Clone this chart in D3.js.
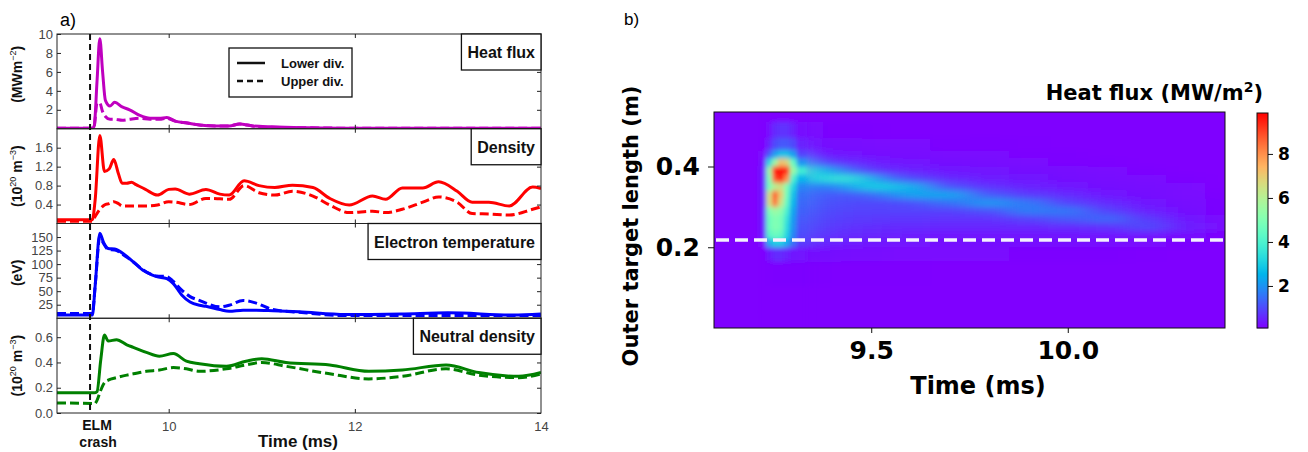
<!DOCTYPE html>
<html><head><meta charset="utf-8">
<script src="https://cdn.jsdelivr.net/npm/d3@7"></script>
<style>body{margin:0;background:#fff}</style>
</head><body><svg id="c" width="1308" height="452" xmlns="http://www.w3.org/2000/svg"></svg>
<script>
// ---------------- DATA: panel a ----------------
const elmTime = 9.155;
const xTicksA = [10, 12, 14];

const tHeat = [8.8, 9.18, 9.2, 9.23, 9.26, 9.29, 9.32, 9.37, 9.42, 9.5, 9.58, 9.69, 9.8, 9.9, 9.98, 10.07, 10.2, 10.33, 10.5, 10.65, 10.76, 10.9, 11.1, 11.5, 12, 13, 14];
const heatLower = [0.05, 0.05, 0.3, 5.0, 9.5, 6.0, 3.0, 2.4, 2.8, 2.3, 2.0, 1.4, 1.1, 1.1, 1.2, 0.8, 0.6, 0.4, 0.3, 0.3, 0.5, 0.3, 0.2, 0.1, 0.05, 0.05, 0.05];
const heatUpper = [0.05, 0.05, 0.3, 2.7, 2.7, 1.8, 1.3, 1.0, 1.0, 0.9, 1.0, 1.1, 1.0, 1.0, 1.1, 0.8, 0.6, 0.4, 0.3, 0.3, 0.5, 0.3, 0.15, 0.1, 0.05, 0.05, 0.05];
const heatTicks = [2, 4, 6, 8, 10];

const tDens = [8.8, 9.18, 9.21, 9.26, 9.31, 9.36, 9.41, 9.46, 9.5, 9.55, 9.6, 9.65, 9.75, 9.88, 10.0, 10.07, 10.22, 10.4, 10.55, 10.65, 10.81, 10.97, 11.14, 11.33, 11.55, 11.73, 11.94, 12.19, 12.33, 12.51, 12.73, 12.9, 13.1, 13.26, 13.44, 13.66, 13.91, 14.0];
const densLower = [0.08, 0.08, 0.5, 1.86, 1.1, 1.15, 1.35, 1.05, 0.85, 0.85, 0.87, 0.82, 0.72, 0.6, 0.72, 0.73, 0.62, 0.72, 0.62, 0.6, 0.9, 0.8, 0.76, 0.81, 0.76, 0.53, 0.39, 0.58, 0.51, 0.75, 0.75, 0.88, 0.68, 0.45, 0.45, 0.37, 0.77, 0.74];
const densUpper = [0.05, 0.05, 0.15, 0.3, 0.39, 0.42, 0.46, 0.42, 0.37, 0.37, 0.37, 0.37, 0.37, 0.39, 0.46, 0.45, 0.4, 0.53, 0.52, 0.51, 0.8, 0.65, 0.6, 0.68, 0.58, 0.39, 0.23, 0.26, 0.23, 0.3, 0.45, 0.56, 0.45, 0.21, 0.2, 0.18, 0.3, 0.35];
const densTicks = [0.4, 0.8, 1.2, 1.6];

const tTemp = [8.8, 9.18, 9.21, 9.26, 9.3, 9.35, 9.42, 9.53, 9.62, 9.72, 9.87, 9.98, 10.05, 10.14, 10.23, 10.33, 10.4, 10.55, 10.65, 10.8, 10.94, 11.12, 11.4, 11.9, 12.5, 13.0, 13.7, 14.0];
const tempLower = [6, 6, 60, 157, 140, 129, 128, 117, 104, 89, 77, 73, 64, 43, 30, 24, 22, 16, 13, 15, 15, 14, 12, 7, 8, 10, 6, 8];
const tempUpper = [9, 9, 60, 150, 138, 127, 126, 115, 104, 90, 78, 77, 68, 52, 40, 33, 28, 21, 24, 33, 28, 16, 11, 5, 5, 5, 5, 5];
const tempTicks = [25, 50, 75, 100, 125, 150];

const tNeut = [8.8, 9.18, 9.2, 9.23, 9.27, 9.31, 9.35, 9.44, 9.55, 9.62, 9.76, 9.9, 10.05, 10.19, 10.33, 10.62, 10.83, 11.0, 11.26, 11.73, 12.15, 12.51, 12.98, 13.33, 13.76, 14.0];
const neutLower = [0.16, 0.16, 0.16, 0.17, 0.42, 0.617, 0.57, 0.58, 0.54, 0.52, 0.48, 0.45, 0.47, 0.41, 0.39, 0.37, 0.41, 0.43, 0.40, 0.38, 0.33, 0.34, 0.38, 0.32, 0.29, 0.32];
const neutUpper = [0.08, 0.075, 0.07, 0.1, 0.18, 0.24, 0.26, 0.28, 0.3, 0.31, 0.33, 0.34, 0.36, 0.35, 0.33, 0.35, 0.38, 0.40, 0.37, 0.31, 0.27, 0.29, 0.35, 0.30, 0.28, 0.31];
const neutTicks = [0.0, 0.2, 0.4, 0.6];

// ---------------- DATA: panel b ----------------
const hmTime = [9.10, 9.15, 9.20, 9.225, 9.24, 9.255, 9.27, 9.285, 9.30, 9.32, 9.35, 9.40, 9.45, 9.50, 9.55, 9.60, 9.70, 9.80, 9.90, 10.0, 10.1, 10.2, 10.3, 10.4];
const hmPos = [0.53, 0.49, 0.45, 0.43, 0.41, 0.39, 0.37, 0.35, 0.33, 0.31, 0.29, 0.27, 0.25, 0.23, 0.21, 0.19, 0.14, 0.07, 0.01];
const hmValues = [
 [0.1,0.1,0.1,0.1,0.1,0.12,0.12,0.12,0.1,0.1, 0.1,0.1,0.1,0.1,0.1,0.1,0.1,0.1,0.1,0.1,0.1,0.1,0.1,0.1],
 [0.1,0.1,0.1,0.1,0.25,0.6,0.7,0.7,0.5,0.25, 0.2,0.15,0.15,0.15,0.12,0.12,0.12,0.1,0.1,0.1,0.1,0.1,0.1,0.1],
 [0.1,0.1,0.1,0.12,0.5,1.0,1.2,1.2,1.0,0.5, 0.3,0.25,0.25,0.2,0.2,0.2,0.15,0.15,0.12,0.1,0.1,0.1,0.1,0.1],
 [0.1,0.1,0.1,0.2,1.2,2.2,2.8,2.8,2.2,0.9, 0.5,0.4,0.35,0.3,0.25,0.25,0.2,0.2,0.15,0.15,0.1,0.1,0.1,0.1],
 [0.1,0.1,0.1,0.3,3.2,5.5,7.2,6.8,4.5,2.0, 1.2,0.8,0.6,0.5,0.4,0.35,0.3,0.25,0.2,0.15,0.15,0.1,0.1,0.1],
 [0.1,0.1,0.1,0.4,5.5,9.6,9.8,9.4,5.5,3.8, 3.0,2.2,1.3,0.8,0.6,0.5,0.4,0.35,0.3,0.25,0.2,0.15,0.1,0.1],
 [0.1,0.1,0.1,0.4,5.0,8.8,9.6,8.0,4.0,2.6, 3.0,3.6,3.6,2.4,1.4,1.0,0.6,0.45,0.4,0.3,0.25,0.2,0.15,0.1],
 [0.1,0.1,0.1,0.4,4.8,6.0,6.5,5.0,3.2,1.8, 1.6,1.7,2.3,3.1,3.0,2.4,1.1,0.7,0.5,0.4,0.3,0.25,0.2,0.1],
 [0.1,0.1,0.1,0.4,6.5,8.7,7.0,4.8,2.8,1.5, 1.3,1.2,1.2,1.4,1.8,2.3,2.3,1.2,0.8,0.6,0.4,0.3,0.2,0.15],
 [0.1,0.1,0.1,0.4,6.5,8.4,6.5,4.5,2.6,1.4, 1.2,1.1,1.0,1.0,1.0,1.1,1.5,2.1,1.6,0.9,0.6,0.4,0.25,0.15],
 [0.1,0.1,0.1,0.4,5.0,5.5,5.2,4.0,2.3,1.3, 1.1,1.0,0.9,0.9,0.9,0.9,0.9,1.1,1.7,1.6,0.9,0.5,0.3,0.15],
 [0.1,0.1,0.1,0.4,4.6,5.0,4.8,3.6,2.1,1.2, 1.0,0.9,0.8,0.8,0.75,0.75,0.7,0.7,0.9,1.2,1.4,0.8,0.4,0.2],
 [0.1,0.1,0.1,0.4,4.6,5.0,4.8,3.4,2.0,1.1, 0.9,0.8,0.7,0.65,0.6,0.6,0.55,0.55,0.55,0.6,0.7,1.0,0.5,0.2],
 [0.1,0.1,0.1,0.35,4.2,4.6,4.4,3.2,1.8,1.0, 0.8,0.7,0.6,0.55,0.5,0.45,0.4,0.4,0.4,0.4,0.4,0.4,0.3,0.15],
 [0.1,0.1,0.1,0.2,2.4,3.0,3.0,2.4,1.5,0.8, 0.6,0.5,0.45,0.4,0.35,0.35,0.3,0.3,0.25,0.25,0.25,0.2,0.15,0.1],
 [0.1,0.1,0.1,0.1,0.4,0.6,0.6,0.5,0.4,0.35, 0.3,0.3,0.25,0.25,0.2,0.2,0.2,0.2,0.15,0.15,0.15,0.12,0.1,0.1],
 [0.1,0.1,0.1,0.1,0.12,0.15,0.15,0.15,0.15,0.15, 0.15,0.12,0.12,0.12,0.12,0.12,0.1,0.1,0.1,0.1,0.1,0.1,0.1,0.1],
 [0.1,0.1,0.1,0.1,0.1,0.1,0.1,0.1,0.1,0.1, 0.1,0.1,0.1,0.1,0.1,0.1,0.1,0.1,0.1,0.1,0.1,0.1,0.1,0.1],
 [0.1,0.1,0.1,0.1,0.1,0.1,0.1,0.1,0.1,0.1, 0.1,0.1,0.1,0.1,0.1,0.1,0.1,0.1,0.1,0.1,0.1,0.1,0.1,0.1]
];
const spikeCols = [3, 9];   // columns of the ELM burst, drawn with fine smoothing
const separatrixPos = 0.218;
const hmXTicks = [9.5, 10.0];
const hmYTicks = [0.2, 0.4];
const cbRange = [0.09, 9.86];
const cbTicks = [2, 4, 6, 8];

// ---------------- DRAW ----------------
const svg = d3.select("#c");
const fontA = "'Liberation Sans', Arial, sans-serif";
const fontB = "'DejaVu Sans', sans-serif";

svg.append("text").attr("x", 60).attr("y", 26).attr("font-family", fontA).attr("font-size", 18).text("a)");
svg.append("text").attr("x", 624).attr("y", 25).attr("font-family", fontA).attr("font-size", 17).text("b)");

const A = {left: 57, right: 541, top: 34, bottom: 413};
const xA = d3.scaleLinear().domain([8.8, 14]).range([A.left, A.right]);
const hA = (A.bottom - A.top) / 4;
const panels = [
  {t: tHeat, lo: heatLower, up: heatUpper, dom: [0, 10], ticks: heatTicks, fmt: d3.format("d"), color: "#bf00bf", title: "Heat flux", label: [["(MWm", 0], ["\u22122", 1], [")", 0]], labelDy: -7},
  {t: tDens, lo: densLower, up: densUpper, dom: [0, 2.0], ticks: densTicks, fmt: d3.format(".1f"), color: "#ff0000", title: "Density", label: [["(10", 0], ["20", 1], [" m", 0], ["\u22123", 1], [")", 0]], labelDy: 0},
  {t: tTemp, lo: tempLower, up: tempUpper, dom: [0, 175], ticks: tempTicks, fmt: d3.format("d"), color: "#0000ff", title: "Electron temperature", label: [["(eV)", 0]], labelDy: 2},
  {t: tNeut, lo: neutLower, up: neutUpper, dom: [0, 0.75], ticks: neutTicks, fmt: d3.format(".1f"), color: "#008000", title: "Neutral density", label: [["(10", 0], ["20", 1], [" m", 0], ["\u22123", 1], [")", 0]], labelDy: 0}
];

const defs = svg.append("defs");
panels.forEach((p, i) => {
  const y0 = A.top + i * hA, y1 = y0 + hA;
  const y = d3.scaleLinear().domain(p.dom).range([y1, y0]);
  const cid = "clipA" + i;
  defs.append("clipPath").attr("id", cid).append("rect")
    .attr("x", A.left).attr("y", y0 - 1).attr("width", A.right - A.left).attr("height", hA + 1);
  const g = svg.append("g");
  const line = d3.line().x(d => xA(d[0])).y(d => y(d[1])).curve(d3.curveMonotoneX);
  const lg = g.append("g").attr("clip-path", `url(#${cid})`);
  lg.append("path").datum(d3.zip(p.t, p.up)).attr("d", line).attr("fill", "none")
    .attr("stroke", p.color).attr("stroke-width", 3).attr("stroke-dasharray", "9,4");
  lg.append("path").datum(d3.zip(p.t, p.lo)).attr("d", line).attr("fill", "none")
    .attr("stroke", p.color).attr("stroke-width", 3);

  g.append("rect").attr("x", A.left).attr("y", y0).attr("width", A.right - A.left).attr("height", hA)
    .attr("fill", "none").attr("stroke", "#222").attr("stroke-width", 1);

  const styleAxis = sel => {
    sel.select(".domain").remove();
    sel.selectAll(".tick line").attr("stroke", "#222");
    sel.selectAll(".tick text").attr("font-family", fontA).attr("font-size", 13).attr("fill", "#444");
  };
  g.append("g").attr("transform", `translate(${A.left},0)`)
    .call(d3.axisLeft(y).tickValues(p.ticks).tickFormat(p.fmt).tickSize(-4).tickPadding(4)).call(styleAxis);
  g.append("g").attr("transform", `translate(${A.right},0)`)
    .call(d3.axisRight(y).tickValues(p.ticks).tickFormat("").tickSize(-4)).call(styleAxis);
  g.append("g").attr("transform", `translate(0,${y0})`)
    .call(d3.axisTop(xA).tickValues(xTicksA.slice(0, 2)).tickFormat("").tickSize(-4)).call(styleAxis);
  const bx = g.append("g").attr("transform", `translate(0,${y1})`)
    .call(d3.axisBottom(xA).tickValues(xTicksA).tickFormat(i === 3 ? d3.format("d") : "").tickSize(-4).tickPadding(9)).call(styleAxis);
  bx.selectAll(".tick line").filter(d => d === 14).remove();

  const lab = g.append("text")
    .attr("transform", `translate(22,${(y0 + y1) / 2 + p.labelDy}) rotate(-90)`)
    .attr("text-anchor", "middle").attr("font-family", fontA).attr("font-size", 14).attr("font-weight", "bold").attr("fill", "#111");
  let prevSup = 0;
  p.label.forEach(([s, sup]) => {
    const ts = lab.append("tspan").text(s);
    if (sup && !prevSup) ts.attr("dy", -6).attr("font-size", 9).attr("font-weight", "normal");
    if (!sup && prevSup) ts.attr("dy", 6);
    if (sup && prevSup) ts.attr("font-size", 9);
    prevSup = sup;
  });

  const tb = g.append("g");
  const tt = tb.append("text").attr("font-family", fontA).attr("font-size", 16).attr("font-weight", "bold")
    .attr("text-anchor", "end").attr("x", A.right - 6).attr("y", y0 + 24).attr("fill", "#111").text(p.title);
  const w = tt.node().getComputedTextLength() + 12;
  tb.insert("rect", "text").attr("x", A.right - w).attr("y", y0).attr("width", w).attr("height", 36)
    .attr("fill", "#fff").attr("stroke", "#111").attr("stroke-width", 1.3);
});

svg.append("line").attr("x1", xA(elmTime)).attr("x2", xA(elmTime)).attr("y1", A.top).attr("y2", A.bottom)
  .attr("stroke", "#111").attr("stroke-width", 2).attr("stroke-dasharray", "6,4");
const elm = svg.append("text").attr("font-family", fontA).attr("font-size", 14).attr("font-weight", "bold")
  .attr("text-anchor", "middle").attr("fill", "#111");
elm.append("tspan").attr("x", xA(elmTime) + 7).attr("y", 430).text("ELM");
elm.append("tspan").attr("x", xA(elmTime) + 8).attr("y", 447).text("crash");
svg.append("text").attr("x", 298).attr("y", 447).attr("text-anchor", "middle").attr("font-family", fontA)
  .attr("font-size", 17).attr("font-weight", "bold").attr("fill", "#111").text("Time (ms)");

const leg = svg.append("g");
leg.append("rect").attr("x", 229).attr("y", 48).attr("width", 123).attr("height", 49)
  .attr("fill", "#fff").attr("stroke", "#111").attr("stroke-width", 1.3);
leg.append("line").attr("x1", 237).attr("x2", 265).attr("y1", 63).attr("y2", 63).attr("stroke", "#111").attr("stroke-width", 2.5);
leg.append("line").attr("x1", 237).attr("x2", 265).attr("y1", 81).attr("y2", 81).attr("stroke", "#111").attr("stroke-width", 2.5).attr("stroke-dasharray", "6,4");
[["Lower div.", 68], ["Upper div.", 86]].forEach(([s, yy]) =>
  leg.append("text").attr("x", 281).attr("y", yy).attr("font-family", fontA).attr("font-size", 13).attr("font-weight", "bold").attr("fill", "#111").text(s));

// ---------------- panel b ----------------
function rainbow(t) {
  t = Math.max(0, Math.min(1, t));
  const r = Math.min(1, Math.abs(2 * t - 0.5)), g = Math.sin(Math.PI * t), b = Math.cos(Math.PI * t / 2);
  return d3.rgb(r * 255, g * 255, b * 255).toString();
}
const B = {left: 714, right: 1225, top: 112, bottom: 328};
const xB = d3.scaleLinear().domain([9.1, 10.4]).range([B.left, B.right]);
const yB = d3.scaleLinear().domain([0, 0.535]).range([B.bottom, B.top]);
const cNorm = d3.scaleLinear().domain(cbRange).range([0, 1]).clamp(true);
const color = v => rainbow(cNorm(v));

defs.append("clipPath").attr("id", "clipB").append("rect")
  .attr("x", B.left).attr("y", B.top).attr("width", B.right - B.left).attr("height", B.bottom - B.top);
const mkFilter = (id, sd) => defs.append("filter").attr("id", id).attr("filterUnits", "userSpaceOnUse")
  .attr("x", B.left - 60).attr("y", B.top - 40).attr("width", B.right - B.left + 120).attr("height", B.bottom - B.top + 80)
  .append("feGaussianBlur").attr("stdDeviation", sd);
mkFilter("blurWide", "13 3");
mkFilter("blurFine", "2.2 2.6");

const edges = (arr, lo, hi) => arr.map((v, i) => [
  i === 0 ? lo : (arr[i - 1] + v) / 2,
  i === arr.length - 1 ? hi : (v + arr[i + 1]) / 2
]);
const tEdges = edges(hmTime, 8.9, 10.6);
const pEdges = edges(hmPos, 0.65, -0.1);

const hg = svg.append("g").attr("clip-path", "url(#clipB)");
hg.append("rect").attr("x", B.left).attr("y", B.top).attr("width", B.right - B.left).attr("height", B.bottom - B.top)
  .attr("fill", color(0.1));
const cells = [];
hmValues.forEach((row, r) => row.forEach((v, c) => cells.push({r, c, v})));
const inSpike = d => d.c >= spikeCols[0] && d.c <= spikeCols[1];
const drawCells = (sel, data) => sel.selectAll("rect").data(data).join("rect")
  .attr("x", d => xB(tEdges[d.c][0]))
  .attr("width", d => xB(tEdges[d.c][1]) - xB(tEdges[d.c][0]) + 0.6)
  .attr("y", d => yB(pEdges[d.r][0]))
  .attr("height", d => yB(pEdges[d.r][1]) - yB(pEdges[d.r][0]) + 0.6)
  .attr("fill", d => color(d.v));
// wide-smoothed decay tail (overlapping the burst's last columns), then the burst with fine smoothing on top
drawCells(hg.append("g").attr("filter", "url(#blurWide)"), cells.filter(d => d.c >= spikeCols[1] - 1));
drawCells(hg.append("g").attr("filter", "url(#blurFine)"), cells.filter(inSpike));

svg.append("line").attr("x1", B.left + 2).attr("x2", B.right - 2).attr("y1", yB(separatrixPos)).attr("y2", yB(separatrixPos))
  .attr("stroke", "#f4f0ff").attr("stroke-width", 3.5).attr("stroke-dasharray", "13,6");

svg.append("rect").attr("x", B.left).attr("y", B.top).attr("width", B.right - B.left).attr("height", B.bottom - B.top)
  .attr("fill", "none").attr("stroke", "#111").attr("stroke-width", 1);

const styleB = (sel, fs) => {
  sel.select(".domain").remove();
  sel.selectAll(".tick line").attr("stroke", "#111");
  sel.selectAll(".tick text").attr("font-family", fontB).attr("font-size", fs).attr("font-weight", "bold").attr("fill", "#000");
};
svg.append("g").attr("transform", `translate(0,${B.bottom})`)
  .call(d3.axisBottom(xB).tickValues(hmXTicks).tickFormat(d3.format(".1f")).tickSize(5).tickPadding(8)).call(s => styleB(s, 25));
svg.append("g").attr("transform", `translate(${B.left},0)`)
  .call(d3.axisLeft(yB).tickValues(hmYTicks).tickFormat(d3.format(".1f")).tickSize(6).tickPadding(8)).call(s => styleB(s, 25));

svg.append("text").attr("x", 978).attr("y", 394).attr("text-anchor", "middle").attr("font-family", fontB)
  .attr("font-size", 24).attr("font-weight", "bold").text("Time (ms)");
svg.append("text").attr("transform", `translate(638,226) rotate(-90)`).attr("text-anchor", "middle").attr("font-family", fontB)
  .attr("font-size", 21).attr("font-weight", "bold").text("Outer target length (m)");
const hft = svg.append("text").attr("x", 1263).attr("y", 100).attr("text-anchor", "end").attr("font-family", fontB)
  .attr("font-size", 21).attr("font-weight", "bold");
hft.append("tspan").text("Heat flux (MW/m");
hft.append("tspan").attr("dy", -8).attr("font-size", 14).text("2");
hft.append("tspan").attr("dy", 8).text(")");

const CB = {left: 1257, right: 1268, top: 113, bottom: 328};
const cbY = d3.scaleLinear().domain(cbRange).range([CB.bottom, CB.top]);
const cbg = svg.append("g");
cbg.selectAll("rect").data(d3.range(CB.top, CB.bottom)).join("rect")
  .attr("x", CB.left).attr("width", CB.right - CB.left).attr("y", d => d).attr("height", 1.3)
  .attr("fill", d => color(cbY.invert(d + 0.5)));
cbg.append("rect").attr("x", CB.left).attr("y", CB.top).attr("width", CB.right - CB.left).attr("height", CB.bottom - CB.top)
  .attr("fill", "none").attr("stroke", "#111").attr("stroke-width", 1);
svg.append("g").attr("transform", `translate(${CB.right},0)`)
  .call(d3.axisRight(cbY).tickValues(cbTicks).tickFormat(d3.format("d")).tickSize(5).tickPadding(5)).call(s => styleB(s, 17));
</script></body></html>
